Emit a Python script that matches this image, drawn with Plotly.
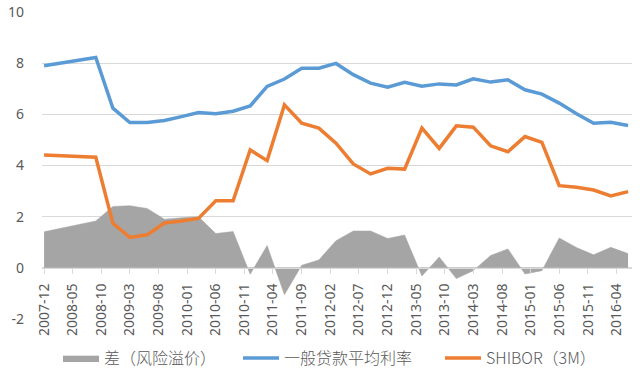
import plotly.graph_objects as go

dates = ["2007-12-01", "2008-03-01", "2008-06-01", "2008-09-01", "2008-12-01",
         "2009-03-01", "2009-06-01", "2009-09-01", "2009-12-01", "2010-03-01",
         "2010-06-01", "2010-09-01", "2010-12-01", "2011-03-01", "2011-06-01",
         "2011-09-01", "2011-12-01", "2012-03-01", "2012-06-01", "2012-09-01",
         "2012-12-01", "2013-03-01", "2013-06-01", "2013-09-01", "2013-12-01",
         "2014-03-01", "2014-06-01", "2014-09-01", "2014-12-01", "2015-03-01",
         "2015-06-01", "2015-09-01", "2015-12-01", "2016-03-01", "2016-06-01"]

loan_rate = [7.90, 8.01, 8.11, 8.22, 6.24, 5.68, 5.68, 5.76, 5.91, 6.07,
             6.02, 6.12, 6.33, 7.09, 7.38, 7.80, 7.80, 7.99, 7.55, 7.22,
             7.06, 7.25, 7.10, 7.19, 7.15, 7.39, 7.26, 7.35, 6.96, 6.79,
             6.44, 6.02, 5.65, 5.69, 5.56]

shibor = [4.41, 4.38, 4.35, 4.32, 1.74, 1.19, 1.29, 1.75, 1.83, 1.93,
          2.62, 2.62, 4.61, 4.19, 6.37, 5.65, 5.46, 4.87, 4.06, 3.67,
          3.89, 3.86, 5.46, 4.67, 5.55, 5.50, 4.77, 4.54, 5.13, 4.90,
          3.21, 3.15, 3.04, 2.81, 2.98]

spread = [1.41, 1.55, 1.69, 1.83, 2.40, 2.43, 2.32, 1.90, 1.96, 2.00,
          1.34, 1.42, -0.25, 0.87, -1.05, 0.10, 0.31, 1.06, 1.44, 1.44,
          1.15, 1.28, -0.32, 0.42, -0.42, -0.11, 0.48, 0.74, -0.24, -0.11,
          1.17, 0.79, 0.51, 0.80, 0.56]

y_ticks = [-2, 0, 2, 4, 6, 8, 10]
y_labels = ["-2", "0", "2", "4", "6", "8", "10"]

names = ["差（风险溢价）", "一般贷款平均利率", "SHIBOR（3M）"]

GRAY = "#A5A5A5"
BLUE = "#5B9BD5"
ORANGE = "#ED7D31"
TXT = "#595959"
GRID = "#D9D9D9"

fig = go.Figure()
fig.add_trace(go.Scatter(x=dates, y=spread, name=names[0], mode="lines",
                         fill="tozeroy", fillcolor=GRAY,
                         line=dict(color=GRAY, width=0.5), legend="legend"))
fig.add_trace(go.Scatter(x=dates, y=loan_rate, name=names[1], mode="lines",
                         line=dict(color=BLUE, width=3.5), legend="legend2"))
fig.add_trace(go.Scatter(x=dates, y=shibor, name=names[2], mode="lines",
                         line=dict(color=ORANGE, width=3.5), legend="legend3"))

PL, PR, PT, PB = 42, 8, 12, 59
pw = 640 - PL - PR
ph = 378 - PT - PB


def px_x(px):
    return (px - PL) / pw


leg_y = -(358 - (378 - PB)) / ph
leg_font = dict(size=16, color=TXT, family="Noto Sans CJK SC, sans-serif", weight=300)


def leg(xpx):
    return dict(orientation="h", x=px_x(xpx), xanchor="left", y=leg_y, yanchor="middle",
                font=leg_font, itemwidth=36, bgcolor="rgba(0,0,0,0)")


ymin, ymax = -2, 10
fig.update_layout(
    width=640, height=378,
    margin=dict(l=PL, r=PR, t=PT, b=PB, autoexpand=False),
    paper_bgcolor="white", plot_bgcolor="white",
    font=dict(family="Noto Sans, Noto Sans CJK SC, sans-serif", color=TXT, size=13),
    showlegend=True,
    legend=leg(58),
    legend2=leg(238),
    legend3=leg(440),
    xaxis=dict(type="date", range=["2007-11-20", "2016-06-22"],
               tick0="2007-12-01", dtick="M5", tickformat="%Y-%m",
               tickangle=-90, showgrid=False, zeroline=False,
               showline=True, linecolor=GRID, linewidth=1,
               ticks="outside", ticklen=5, tickcolor=GRID,
               ticklabelstandoff=4,
               anchor="free", position=(0 - ymin) / (ymax - ymin),
               automargin=False,
               tickfont=dict(size=14, color=TXT)),
    yaxis=dict(range=[ymin, ymax], tickvals=y_ticks, ticktext=y_labels,
               showgrid=True, automargin=False,
               gridcolor=GRID, gridwidth=1, zeroline=False, showline=False,
               ticks="", ticklabelstandoff=17,
               tickfont=dict(size=14, color=TXT)),
)

fig.write_html("out.html", config={"displayModeBar": False},
               post_script="document.body.style.margin='0';document.body.style.overflow='hidden';")
